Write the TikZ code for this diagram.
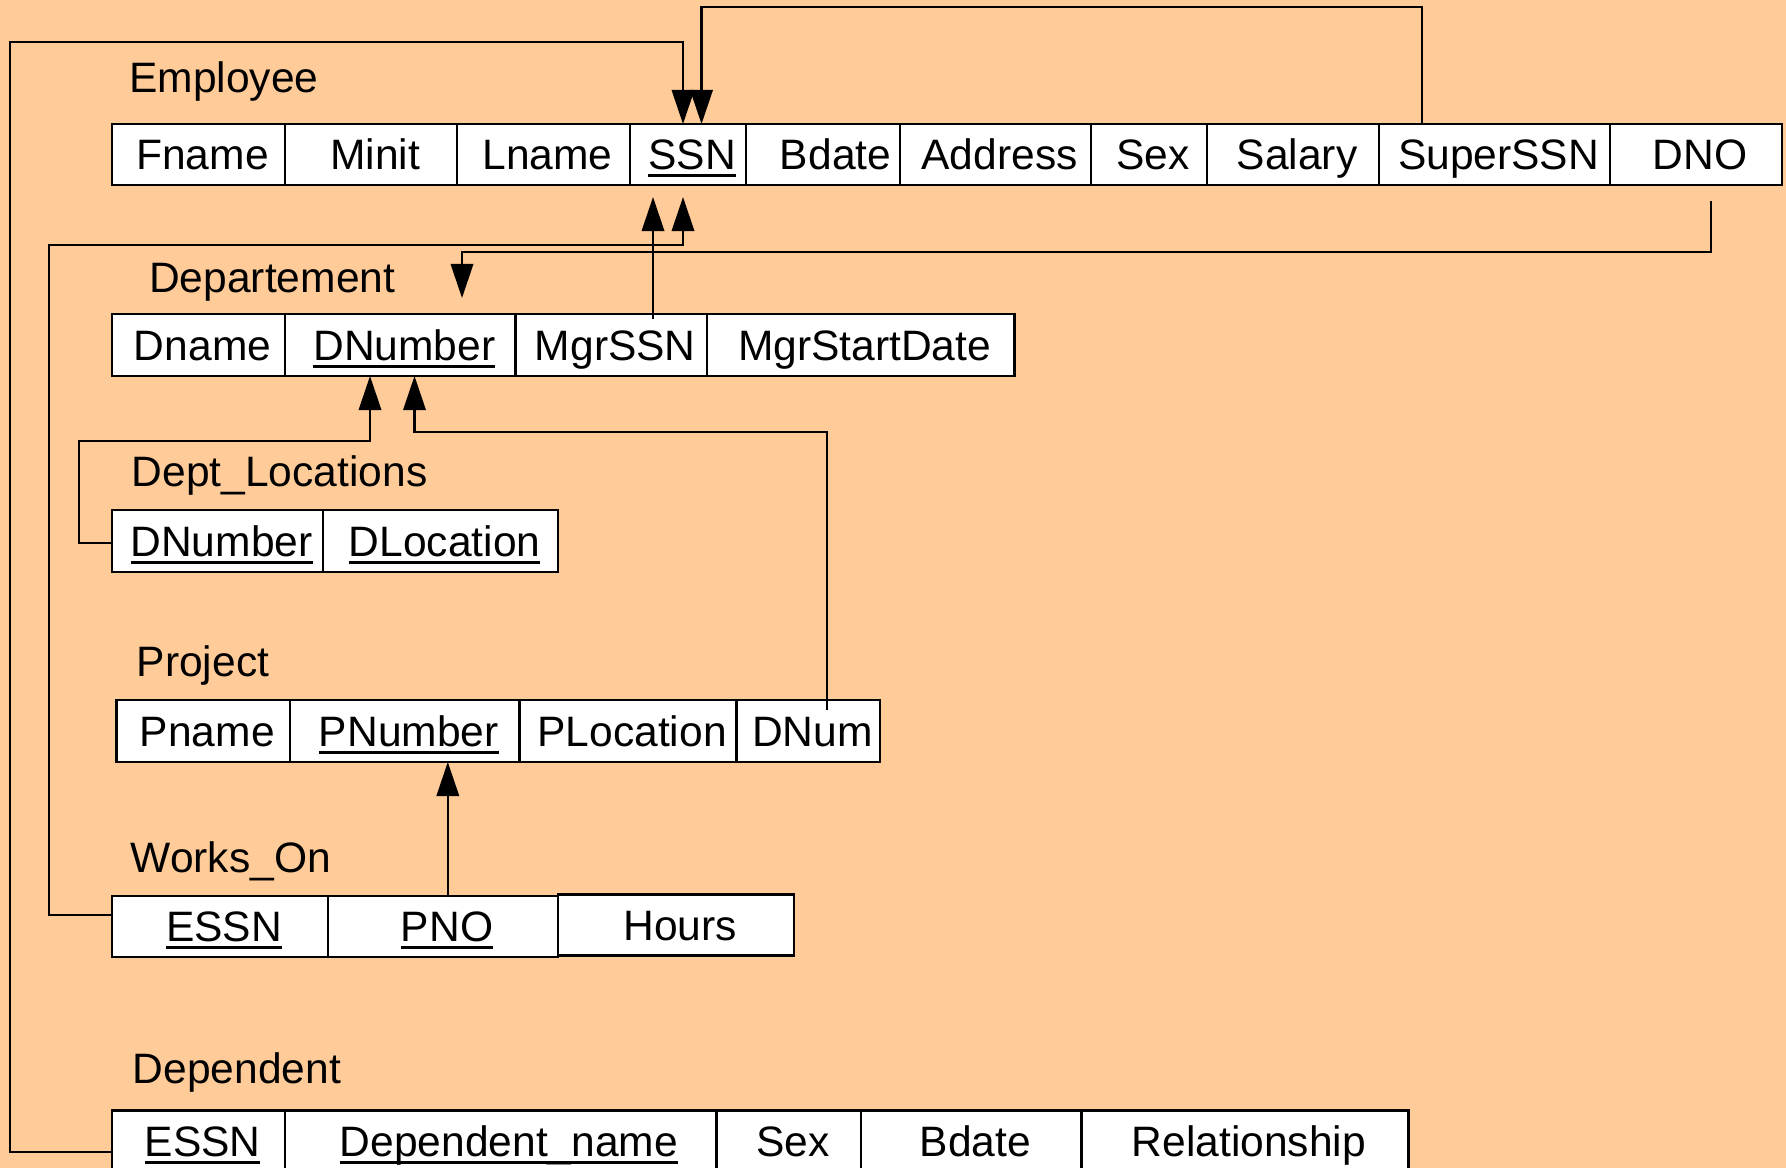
\documentclass[tikz,border=0pt]{standalone}
\usepackage{fontspec}
\setmainfont{Liberation Sans}
\usetikzlibrary{arrows.meta,calc}
\definecolor{peach}{HTML}{FFCC99}
% key attribute: thick rule under the whole word
\newcommand\keyattr[1]{\setbox0\hbox{#1}\rlap{\vrule width\wd0 height -1.3pt depth 2.2pt}\box0}
\begin{document}
\begin{tikzpicture}[x=0.01cm,y=-0.01cm,
  cell/.style={draw=black, line width=0.75pt, fill=white, anchor=north west,
    inner sep=0pt, outer sep=0pt, minimum height=0.61cm,
    text height=8.6pt, text depth=0pt, font=\fontsize{12.1pt}{14pt}\selectfont,
    execute at begin node={\hspace*{0.08cm}}},
  reltitle/.style={anchor=base west, inner sep=0pt, font=\fontsize{12.1pt}{14pt}\selectfont},
  fk/.style={line width=0.6pt, -{Triangle[length=9.7pt,width=6.4pt]}}]
\useasboundingbox (0,0) rectangle (1786,1168);
\clip (0,0) rectangle (1786,1168);
\fill[peach] (0,0) rectangle (1786,1168);

% Employee
\node[reltitle] (tE) at (128.5,93) {Employee};
\node[cell, minimum width=1.73cm] (e1) at (112,124) {Fname};
\node[cell, minimum width=1.72cm] (e2) at (285,124) {Minit};
\node[cell, minimum width=1.73cm] (e3) at (457,124) {Lname};
\node[cell, minimum width=1.16cm] (e4) at (630,124) {\keyattr{SSN}};
\node[cell, minimum width=1.71cm] (e5) at (746,124) {Bdate};
\node[cell, minimum width=1.91cm] (e6) at (900,124) {Address};
\node[cell, minimum width=1.16cm] (e7) at (1091,124) {Sex};
\node[cell, minimum width=1.72cm] (e8) at (1207,124) {Salary};
\node[cell, minimum width=2.31cm] (e9) at (1379,124) {SuperSSN};
\node[cell, minimum width=1.72cm] (e10) at (1610,124) {DNO};

% Departement
\node[reltitle] (tD) at (148.5,293) {Departement};
\node[cell, minimum width=1.73cm, minimum height=0.62cm] (d1) at (112,314) {Dname};
\node[cell, minimum width=2.305cm, minimum height=0.62cm] (d2) at (285,314) {\keyattr{DNumber}};
\node[cell, minimum width=1.915cm, minimum height=0.62cm] (d3) at (515.5,314) {MgrSSN};
\node[cell, minimum width=3.07cm, minimum height=0.62cm] (d4) at (707,314) {MgrStartDate};

% Dept_Locations
\node[reltitle] (tL) at (131,487) {Dept\_Locations};
\node[cell, minimum width=2.11cm, minimum height=0.62cm] (l1) at (112,510) {\keyattr{DNumber}};
\node[cell, minimum width=2.35cm, minimum height=0.62cm] (l2) at (323,510) {\keyattr{DLocation}};

% Project
\node[reltitle] (tP) at (136,677) {Project};
\node[cell, minimum width=1.735cm, minimum height=0.62cm] (p1) at (116.5,700) {Pname};
\node[cell, minimum width=2.295cm, minimum height=0.62cm] (p2) at (290,700) {\keyattr{PNumber}};
\node[cell, minimum width=2.17cm, minimum height=0.62cm] (p3) at (519.5,700) {PLocation};
\node[cell, minimum width=1.435cm, minimum height=0.62cm] (p4) at (736.5,700) {DNum};

% Works_On
\node[reltitle] (tW) at (130,873) {Works\_On};
\node[cell, minimum width=2.16cm] (w1) at (112,896) {\keyattr{ESSN}};
\node[cell, minimum width=2.30cm] (w2) at (328,896) {\keyattr{PNO}};
\node[cell, minimum width=2.36cm] (w3) at (558,894.5) {Hours};

% Dependent
\node[reltitle] (tN) at (132,1083) {Dependent};
\node[cell, minimum width=1.73cm, minimum height=0.62cm] (n1) at (112,1110.5) {\keyattr{ESSN}};
\node[cell, minimum width=4.314cm, minimum height=0.62cm] (n2) at (285,1110.5) {\hspace*{0.08cm}\keyattr{Dependent\_name}};
\node[cell, minimum width=1.446cm, minimum height=0.62cm] (n3) at (716.4,1110.5) {Sex};
\node[cell, minimum width=2.206cm, minimum height=0.62cm] (n4) at (861,1110.5) {Bdate};
\node[cell, minimum width=3.264cm, minimum height=0.62cm] (n5) at (1081.6,1110.5) {Relationship};

% foreign keys
\draw[fk] (n1.west |- 0,1152) -- (10,1152) -- (10,42) -- (683,42) -- (e4.north -| 683,0);
\draw[fk] (e9.north -| 1422,0) -- (1422,7) -- (701.5,7) -- (e4.north -| 701.5,0);
\draw[fk] (w1.west |- 0,915) -- (49.4,915) -- (49.4,245) -- (683,245) -- ($(e4.south -| 683,0)+(0,12)$);
\draw[fk] ($(d3.north -| 653,0)+(0,5)$) -- ($(e4.south -| 653,0)+(0,12)$);
\draw[fk] ($(e10.south -| 1711,0)+(0,16)$) -- (1711,252) -- (462,252) -- ($(d2.north -| 462,0)+(0,-16)$);
\draw[fk] (l1.west |- 0,543) -- (78.6,543) -- (78.6,441) -- (370,441) -- (d2.south -| 370,0);
\draw[fk] ($(p4.north -| 827,0)+(0,10)$) -- (827,432) -- (414.5,432) -- (d2.south -| 414.5,0);
\draw[fk] (w2.north -| 447.8,0) -- (p2.south -| 447.8,0);
\end{tikzpicture}
\end{document}
